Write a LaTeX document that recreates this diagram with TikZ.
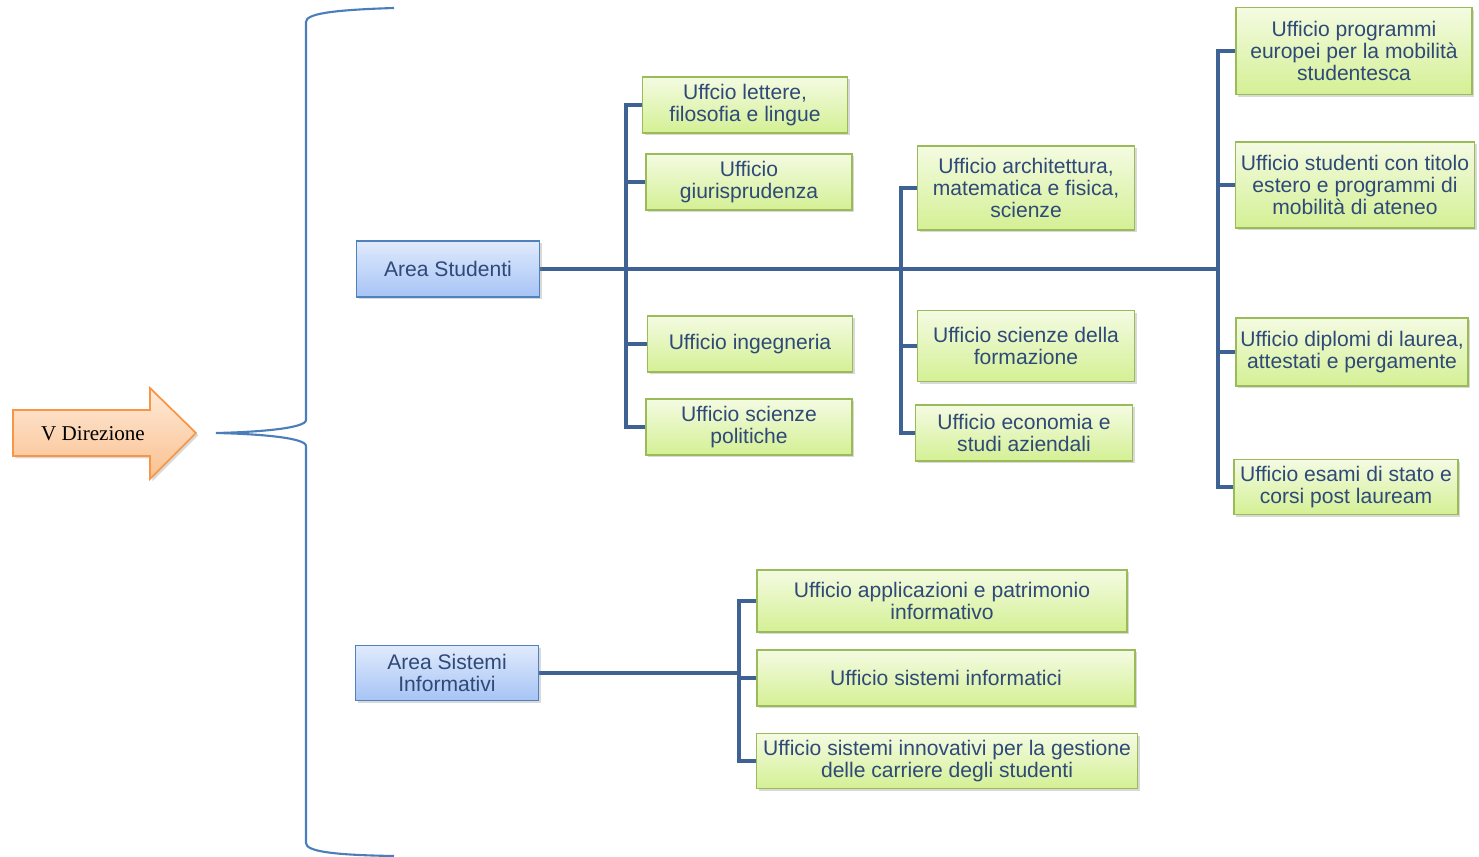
\documentclass[tikz,border=0pt]{standalone}
\usepackage{fontspec}
\setmainfont{Liberation Sans}
\newfontfamily\serifdir{Liberation Serif}
\usetikzlibrary{calc}
\usetikzlibrary{shadows}
\usetikzlibrary{backgrounds}
\usepackage{xcolor}
\definecolor{testo}{RGB}{47,73,120}
\definecolor{ramoblu}{RGB}{62,98,148}
\definecolor{bordoverde}{RGB}{155,187,89}
\definecolor{verdealto}{RGB}{244,251,226}
\definecolor{verdebasso}{RGB}{212,240,148}
\definecolor{bordoblu}{RGB}{79,129,189}
\definecolor{blualto}{RGB}{224,234,252}
\definecolor{blubasso}{RGB}{166,196,245}
\definecolor{bordoarancio}{RGB}{247,150,70}
\definecolor{arancioalto}{RGB}{254,234,216}
\definecolor{aranciobasso}{RGB}{250,192,143}
\definecolor{graffablu}{RGB}{74,126,187}

\begin{document}
\begin{tikzpicture}[x=0.02cm, y=-0.02cm,
  ufficio/.style={draw=bordoverde, line width=0.8pt, top color=verdealto, bottom color=verdebasso, text=testo, align=center, inner sep=1pt, font=\fontsize{12}{12.5}\selectfont, drop shadow={shadow xshift=1.3pt, shadow yshift=-1.3pt, opacity=0.3}},
  area/.style={ufficio, draw=bordoblu, top color=blualto, bottom color=blubasso},
  direzione/.style={draw=bordoarancio, line width=1pt, top color=arancioalto, bottom color=aranciobasso, drop shadow={shadow xshift=1.3pt, shadow yshift=-1.3pt, opacity=0.3}},
  ramo/.style={draw=ramoblu, line width=2.8pt, line cap=rect},
  graffa/.style={draw=graffablu, line width=1.2pt}]
\useasboundingbox (0,0) rectangle (1479,857);

% freccia e graffa
\draw[direzione] (13,410) -- (150,410) -- (150,388) -- (196,433) -- (150,479) -- (150,456) -- (13,456) -- cycle;
\node[font=\serifdir\fontsize{12}{14}\selectfont, text=black] (vdir) at (93,434) {V Direzione};
\draw[graffa] (394,8) .. controls (330,10) and (306,14) .. (306,22) -- (306,420) .. controls (306,428) and (262,432) .. (216,433) .. controls (262,434) and (306,438) .. (306,446) -- (306,843) .. controls (306,851) and (330,855) .. (394,856);

\node[area, minimum width=3.66cm, minimum height=1.12cm] (studenti) at (448,269) {Area Studenti};
\node[area, minimum width=3.66cm, minimum height=1.1cm] (sistemi) at (447,673) {Area Sistemi\\Informativi};

\node[ufficio, minimum width=4.1cm, minimum height=1.12cm] (lettere) at (745,105) {Uffcio lettere,\\filosofia e lingue};
\node[ufficio, minimum width=4.12cm, minimum height=1.12cm] (giuris) at (749,182) {Ufficio\\giurisprudenza};
\node[ufficio, minimum width=4.1cm, minimum height=1.12cm] (ingegneria) at (750,344) {Ufficio ingegneria};
\node[ufficio, minimum width=4.12cm, minimum height=1.12cm] (politiche) at (749,427) {Ufficio scienze\\politiche};

\node[ufficio, minimum width=4.34cm, minimum height=1.68cm] (architettura) at (1026,188) {Ufficio architettura,\\matematica e fisica,\\scienze};
\node[ufficio, minimum width=4.34cm, minimum height=1.42cm] (formazione) at (1026,346) {Ufficio scienze della\\formazione};
\node[ufficio, minimum width=4.34cm, minimum height=1.12cm] (economia) at (1024,433) {Ufficio economia e\\studi aziendali};

\node[ufficio, minimum width=4.72cm, minimum height=1.74cm] (europei) at (1354,51) {Ufficio programmi\\europei per la mobilità\\studentesca};
\node[ufficio, minimum width=4.78cm, minimum height=1.72cm] (estero) at (1355,185) {Ufficio studenti con titolo\\estero e programmi di\\mobilità di ateneo};
\node[ufficio, minimum width=4.64cm, minimum height=1.36cm] (diplomi) at (1352,352) {Ufficio diplomi di laurea,\\attestati e pergamente};
\node[ufficio, minimum width=4.48cm, minimum height=1.1cm] (esami) at (1346,487) {Ufficio esami di stato e\\corsi post lauream};

\node[ufficio, minimum width=7.4cm, minimum height=1.24cm] (applicazioni) at (942,601) {Ufficio applicazioni e patrimonio\\informativo};
\node[ufficio, minimum width=7.56cm, minimum height=1.12cm] (informatici) at (946,678) {Ufficio sistemi informatici};
\node[ufficio, minimum width=7.62cm, minimum height=1.1cm] (innovativi) at (947,761) {Ufficio sistemi innovativi per la gestione\\delle carriere degli studenti};

\coordinate (c1) at (626,268);
\coordinate (c2) at (901,268);
\coordinate (c3) at (1218,268);
\coordinate (c4) at (739,673);

\begin{pgfonlayer}{background}
\draw[ramo] (studenti.east) -- (studenti.east -| c3);
\draw[ramo] (c1 |- lettere.west) -- (c1 |- politiche.west);
\foreach \u in {lettere,giuris,ingegneria,politiche}
  \draw[ramo] (c1 |- \u.west) -- (\u.west);
\draw[ramo] (c2 |- architettura.west) -- (c2 |- economia.west);
\foreach \u in {architettura,formazione,economia}
  \draw[ramo] (c2 |- \u.west) -- (\u.west);
\draw[ramo] (c3 |- europei.west) -- (c3 |- esami.west);
\foreach \u in {europei,estero,diplomi,esami}
  \draw[ramo] (c3 |- \u.west) -- (\u.west);
\draw[ramo] (sistemi.east) -- (sistemi.east -| c4);
\draw[ramo] (c4 |- applicazioni.west) -- (c4 |- innovativi.west);
\foreach \u in {applicazioni,informatici,innovativi}
  \draw[ramo] (c4 |- \u.west) -- (\u.west);
\end{pgfonlayer}
\end{tikzpicture}
\end{document}
